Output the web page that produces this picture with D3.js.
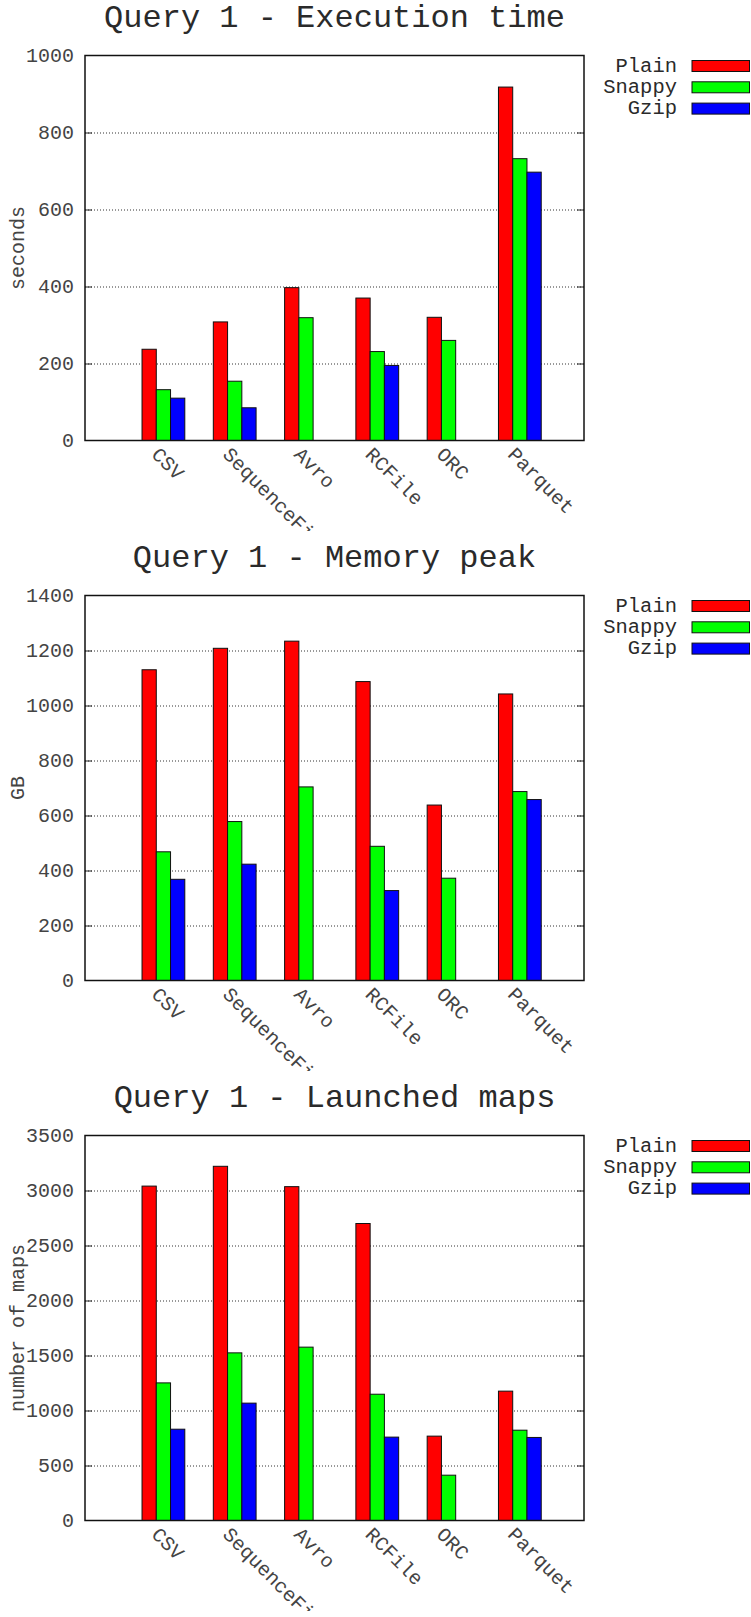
<!DOCTYPE html>
<html>
<head>
<meta charset="utf-8">
<script src="https://cdn.jsdelivr.net/npm/d3@7"></script>
<style>
  body { margin: 0; background: #fff; }
  svg { display: block; }
</style>
</head>
<body>
<svg id="charts" width="751" height="1617"></svg>
<script>
(() => {

    // categories and series
    const formats = ['CSV', 'SequenceFile', 'Avro', 'RCFile', 'ORC', 'Parquet'];
    const codecs = ['Plain', 'Snappy', 'Gzip'];
    const codec_colors = ['#ff0000', '#00ff00', '#0000ff'];

    // query 1 - execution time (seconds)
    const exec_plain = [237, 308, 397, 370, 320, 918];
    const exec_snappy = [132, 154, 319, 231, 260, 732];
    const exec_gzip = [110, 85, null, 195, null, 697];

    // query 1 - memory peak (GB)
    const mem_plain = [1130, 1208, 1234, 1087, 638, 1042];
    const mem_snappy = [468, 578, 704, 488, 372, 687];
    const mem_gzip = [368, 423, null, 327, null, 658];

    // query 1 - launched maps
    const maps_plain = [3040, 3220, 3035, 2700, 767, 1176];
    const maps_snappy = [1251, 1524, 1576, 1148, 412, 821];
    const maps_gzip = [830, 1067, null, 758, null, 755];

    const titles = ['Query 1 - Execution time', 'Query 1 - Memory peak', 'Query 1 - Launched maps'];
    const y_labels = ['seconds', 'GB', 'number of maps'];
    const y_max = [1000, 1400, 3500];
    const y_step = [200, 200, 500];
    const series = [
        [exec_plain, exec_snappy, exec_gzip],
        [mem_plain, mem_snappy, mem_gzip],
        [maps_plain, maps_snappy, maps_gzip]
    ];

    // layout
    const panel_height = 540;
    const clip_height = 531;
    const left = 85, right = 584, top = 55.5, bottom = 440.5;
    const font = '"Liberation Mono", "DejaVu Sans Mono", monospace';
    const text_color = '#2a2a2a';
    const small_color = '#444';

    let svg = d3.select('#charts');
    let defs = svg.append('defs');

    titles.forEach((title, c) => {

        // each panel is cut at its bottom like the original images
        defs.append('clipPath')
            .attr('id', 'clip' + c)
            .append('rect')
            .attr('x', 0).attr('y', 0)
            .attr('width', 751).attr('height', clip_height);

        let g = svg.append('g')
            .attr('transform', `translate(0, ${c * panel_height})`)
            .attr('clip-path', `url(#clip${c})`);

        // scales
        let x_scale = d3.scaleLinear()
            .domain([-1.1, 5.9])
            .range([left, right]);
        let bar_w = x_scale(0.2) - x_scale(0);

        let y_scale = d3.scaleLinear()
            .domain([0, y_max[c]])
            .range([bottom, top]);

        let ticks = d3.range(0, y_max[c] + 1, y_step[c]);
        let inner = ticks.filter((t) => t > 0 && t < y_max[c]);

        // dotted grid
        g.append('g')
            .attr('transform', `translate(${left}, 0)`)
            .call(d3.axisLeft(y_scale).tickValues(inner).tickSize(-(right - left)).tickFormat(''))
            .call((a) => a.select('.domain').remove())
            .selectAll('line')
            .attr('stroke', '#333')
            .attr('stroke-width', 1)
            .attr('stroke-dasharray', '1,2');

        // solid ticks, both sides
        g.append('g')
            .attr('transform', `translate(${left}, 0)`)
            .call(d3.axisLeft(y_scale).tickValues(inner).tickSize(-7).tickFormat(''))
            .call((a) => a.select('.domain').remove())
            .selectAll('line').attr('stroke', '#222');
        g.append('g')
            .attr('transform', `translate(${right}, 0)`)
            .call(d3.axisRight(y_scale).tickValues(inner).tickSize(-7).tickFormat(''))
            .call((a) => a.select('.domain').remove())
            .selectAll('line').attr('stroke', '#222');

        // tick labels
        g.append('g')
            .attr('transform', `translate(${left}, 0)`)
            .call(d3.axisLeft(y_scale).tickValues(ticks).tickSize(0).tickPadding(11).tickFormat(d3.format('d')))
            .call((a) => a.select('.domain').remove())
            .selectAll('text')
            .style('font-family', font)
            .style('font-size', '20px')
            .attr('fill', small_color);

        // bars
        let bars = [];
        formats.forEach((f, i) => {
            codecs.forEach((k, j) => {
                let v = series[c][j][i];
                if (v != null) bars.push({ i: i, j: j, v: v });
            });
        });

        g.append('g')
            .selectAll('rect')
            .data(bars)
            .enter()
            .append('rect')
            .attr('x', (d) => x_scale(d.i + (d.j - 1) * 0.2) - bar_w / 2)
            .attr('y', (d) => y_scale(d.v))
            .attr('width', bar_w)
            .attr('height', (d) => bottom - y_scale(d.v))
            .attr('fill', (d) => codec_colors[d.j])
            .attr('stroke', '#111')
            .attr('stroke-width', 1);

        // border
        g.append('rect')
            .attr('x', left).attr('y', top)
            .attr('width', right - left).attr('height', bottom - top)
            .attr('fill', 'none')
            .attr('stroke', '#111')
            .attr('stroke-width', 1.5);

        // x labels
        g.append('g')
            .selectAll('text')
            .data(formats)
            .enter()
            .append('text')
            .attr('transform', (d, i) => `translate(${x_scale(i) - 13}, ${bottom + 15}) rotate(45)`)
            .text((d) => d)
            .style('font-family', font)
            .style('font-size', '20px')
            .attr('fill', small_color);

        // y label
        g.append('text')
            .attr('transform', `translate(24, ${(top + bottom) / 2}) rotate(-90)`)
            .attr('text-anchor', 'middle')
            .text(y_labels[c])
            .style('font-family', font)
            .style('font-size', '20px')
            .attr('fill', small_color);

        // title
        g.append('text')
            .attr('x', (left + right) / 2)
            .attr('y', 27)
            .attr('text-anchor', 'middle')
            .text(title)
            .style('font-family', font)
            .style('font-size', '32px')
            .attr('fill', text_color);

        // legend
        let legend = g.append('g')
            .selectAll('g')
            .data(codecs)
            .enter()
            .append('g')
            .attr('transform', (d, j) => `translate(0, ${66 + j * 21.3})`);

        legend.append('text')
            .attr('x', 677)
            .attr('text-anchor', 'end')
            .attr('dominant-baseline', 'central')
            .text((d) => d)
            .style('font-family', font)
            .style('font-size', '20.5px')
            .attr('fill', text_color);

        legend.append('rect')
            .attr('x', 692)
            .attr('y', -5.5)
            .attr('width', 57.5)
            .attr('height', 11)
            .attr('fill', (d, j) => codec_colors[j])
            .attr('stroke', '#111')
            .attr('stroke-width', 1);
    });

})();
</script>
</body>
</html>
